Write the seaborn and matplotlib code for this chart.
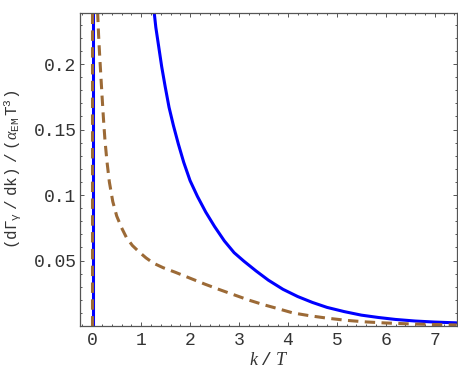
import numpy as np
import pandas as pd
import matplotlib
matplotlib.use('Agg')
import matplotlib.pyplot as plt
import seaborn as sns
from matplotlib.ticker import FixedLocator, MultipleLocator

# photon rate curves (k/T, rate)
blue_spike_k = [0.02, 0.02]
blue_spike_y = [0.0, 0.26]
blue_k = [1.265, 1.30, 1.36, 1.42, 1.49, 1.57, 1.66, 1.76, 1.87, 2.00, 2.15, 2.32, 2.50,
          2.70, 2.90, 3.10, 3.35, 3.60, 3.90, 4.20, 4.50, 4.80, 5.15, 5.50, 5.85, 6.20,
          6.60, 7.00, 7.45]
blue_y = [0.240, 0.228, 0.213, 0.198, 0.183, 0.167, 0.153, 0.139, 0.125, 0.111, 0.099,
          0.087, 0.076, 0.065, 0.056, 0.0495, 0.042, 0.035, 0.028, 0.0225, 0.018, 0.0142,
          0.011, 0.0083, 0.0065, 0.005, 0.0038, 0.003, 0.0024]

brown_spike_k = [0.0, 0.0]
brown_spike_y = [0.0, 0.26]
brown_k = [0.11, 0.13, 0.15, 0.17, 0.20, 0.23, 0.26, 0.30, 0.35, 0.42, 0.50, 0.60, 0.70,
           0.82, 0.96, 1.10, 1.25, 1.45, 1.70, 2.00, 2.30, 2.60, 2.90, 3.20, 3.50, 3.80,
           4.10, 4.45, 4.80, 5.20, 5.60, 6.00, 6.50, 7.00, 7.45]
brown_y = [0.240, 0.222, 0.208, 0.195, 0.176, 0.158, 0.142, 0.126, 0.110, 0.095, 0.084,
           0.075, 0.0675, 0.0615, 0.0565, 0.052, 0.048, 0.0445, 0.041, 0.0365, 0.032, 0.0278,
           0.0238, 0.0198, 0.0163, 0.0132, 0.0100, 0.0078, 0.0060, 0.0043, 0.0031, 0.0023,
           0.0016, 0.0011, 0.0008]

y_ticks = [0.05, 0.1, 0.15, 0.2]
y_tick_labels = ['0.05', '0.1', '0.15', '0.2']
x_ticks = [0, 1, 2, 3, 4, 5, 6, 7]


def make_df(spike_k, spike_y, k, y):
    a = pd.DataFrame({'k': spike_k, 'rate': spike_y, 'branch': 0})
    b = pd.DataFrame({'k': k, 'rate': y, 'branch': 1})
    return pd.concat([a, b], ignore_index=True)


df_blue = make_df(blue_spike_k, blue_spike_y, blue_k, blue_y)
df_brown = make_df(brown_spike_k, brown_spike_y, brown_k, brown_y)

sns.set_style('ticks')
plt.rcParams['mathtext.fontset'] = 'custom'
plt.rcParams['mathtext.rm'] = 'Liberation Mono'
plt.rcParams['mathtext.it'] = 'Liberation Serif:italic'
plt.rcParams['mathtext.bf'] = 'Liberation Serif:bold'
plt.rcParams['mathtext.sf'] = 'Liberation Serif'

frame = '#555555'
txt = '#333333'

fig = plt.figure(figsize=(4.58, 3.81), dpi=100)
ax = fig.add_axes([80 / 458, 55 / 381, 376.7 / 458, 313 / 381])

sns.lineplot(data=df_blue, x='k', y='rate', units='branch', estimator=None, sort=False,
             color='#0000ff', linewidth=2.2, ax=ax)
sns.lineplot(data=df_brown, x='k', y='rate', units='branch', estimator=None, sort=False,
             color='#9c6a36', linewidth=2.2, ax=ax)
for line in ax.lines[len(ax.lines) - 2:]:
    line.set_dashes((3.4, 2.1))
    line.set_dash_capstyle('butt')
for line in ax.lines:
    line.set_solid_joinstyle('round')

ax.set_xlim(-0.25, 7.45)
ax.set_ylim(0, 0.239)

ax.xaxis.set_major_locator(FixedLocator(x_ticks))
ax.xaxis.set_minor_locator(MultipleLocator(0.2))
ax.yaxis.set_major_locator(FixedLocator(y_ticks))
ax.set_yticklabels(y_tick_labels)
ax.yaxis.set_minor_locator(MultipleLocator(0.01))

for sp in ax.spines.values():
    sp.set_visible(True)
    sp.set_color(frame)
    sp.set_linewidth(0.9)

ax.tick_params(which='both', direction='in', top=True, right=True, color=frame, width=0.7)
ax.tick_params(which='major', length=3.0, labelsize=13, labelcolor=txt,
               labelfontfamily='Liberation Mono')
ax.tick_params(which='minor', length=1.6)
ax.tick_params(axis='x', which='major', pad=4)
ax.tick_params(axis='y', which='major', pad=2.5)

ax.set_xlabel(r'$k\;/\;T$', fontsize=13, color=txt, labelpad=2)
ax.set_ylabel(r'$(\mathrm{d\Gamma}_{\mathrm{\gamma}}\ /\ \mathrm{dk})\ /\ (\alpha_{\mathrm{EM}}\,\mathrm{T}^{3})$',
              fontsize=11.5, color=txt, labelpad=7)

fig.savefig('out.png', dpi=100)
